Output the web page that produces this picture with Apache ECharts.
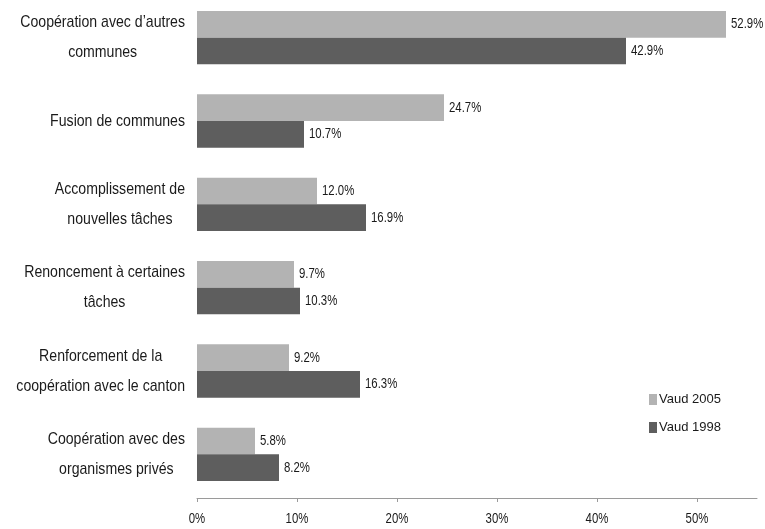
<!DOCTYPE html>
<html>
<head>
<meta charset="utf-8">
<script src="https://cdn.jsdelivr.net/npm/echarts@6/dist/echarts.min.js"></script>
<style>
  html, body { margin: 0; padding: 0; background: #fff; }
  #chart { width: 765px; height: 529px; }
</style>
</head>
<body>
<div id="chart"></div>
<script>
// Changements envisagés par les communes vaudoises (en %)
const categories = [
  "Coopération avec d’autres\ncommunes",
  "Fusion de communes",
  "Accomplissement de\nnouvelles tâches",
  "Renoncement à certaines\ntâches",
  "Renforcement de la\ncoopération avec le canton",
  "Coopération avec des\norganismes privés"
];
const vaud2005 = [52.9, 24.7, 12.0, 9.7, 9.2, 5.8];
const vaud1998 = [42.9, 10.7, 16.9, 10.3, 16.3, 8.2];
const seriesNames = ["Vaud 2005", "Vaud 1998"];
const xTicks = [0, 10, 20, 30, 40, 50];

const FAMILY = "'Liberation Sans', Arial, sans-serif";
const TEXT_COLOR = '#1a1a1a';
const AXIS_OFFSET = 2;

const chart = echarts.init(document.getElementById('chart'), null, { renderer: 'canvas' });

chart.setOption({
  animation: false,
  backgroundColor: '#ffffff',
  grid: { left: 197, right: 8, top: -4, bottom: 33, containLabel: false, outerBoundsMode: 'none' },
  legend: {
    orient: 'vertical',
    left: 644,
    top: 388,
    itemWidth: 8,
    itemHeight: 11,
    itemGap: 15,
    icon: 'rect',
    textStyle: { fontFamily: FAMILY, fontSize: 13, color: TEXT_COLOR, padding: [0, 0, 0, -3] },
    data: seriesNames
  },
  xAxis: {
    type: 'value',
    min: 0,
    max: 56,
    interval: 10,
    offset: AXIS_OFFSET,
    axisLine: { show: true, lineStyle: { color: '#9a9a9a', width: 1 } },
    axisTick: { show: true, length: 4, lineStyle: { color: '#9a9a9a' }, customValues: xTicks },
    axisLabel: { show: false },
    splitLine: { show: false }
  },
  yAxis: {
    type: 'category',
    inverse: true,
    data: categories,
    axisLine: { show: false },
    axisTick: { show: false },
    axisLabel: { show: false }
  },
  series: [
    { name: seriesNames[0], type: 'bar', data: vaud2005, barWidth: 26.7, barGap: '0%',
      itemStyle: { color: '#b3b3b3' } },
    { name: seriesNames[1], type: 'bar', data: vaud1998, barWidth: 26.7, barGap: '0%',
      itemStyle: { color: '#5e5e5e' } }
  ]
});

// Text measuring for centring the lines of each category label
const measureCtx = document.createElement('canvas').getContext('2d');
function textWidth(str, size) {
  measureCtx.font = size + 'px ' + FAMILY;
  return measureCtx.measureText(str).width;
}

// Condensed text: drawn at full size, then squeezed horizontally around its anchor
function narrowText(str, x, y, size, squeeze, align, lineHeight) {
  let localX = 0;
  let a = align;
  if (align === 'block-right') {
    const w = Math.max(...str.split('\n').map(s => textWidth(s, size)));
    localX = -w / 2;
    a = 'center';
  }
  return {
    type: 'text',
    x: x, y: y,
    scaleX: squeeze,
    silent: true,
    style: {
      text: str, x: localX, y: 0,
      fontFamily: FAMILY, fontSize: size,
      lineHeight: lineHeight || Math.round(size * 1.2),
      fill: TEXT_COLOR,
      align: a, verticalAlign: 'middle'
    }
  };
}

function addLabels() {
  const grid = chart.getModel().getComponent('grid').coordinateSystem.getRect();
  const axisY = grid.y + grid.height + AXIS_OFFSET;
  const elements = [];

  // category labels, right-aligned block with centred lines
  categories.forEach((c, i) => {
    const yc = chart.convertToPixel({ yAxisIndex: 0 }, i);
    elements.push(narrowText(c, grid.x - 12, yc, 17, 0.83, 'block-right', 30));
  });

  // value labels at the end of each bar
  [vaud2005, vaud1998].forEach((vals, si) => {
    const data = chart.getModel().getSeriesByIndex(si).getData();
    vals.forEach((v, i) => {
      const lay = data.getItemLayout(i);
      const xEnd = lay.x + lay.width;
      const yMid = lay.y + lay.height / 2;
      elements.push(narrowText(v.toFixed(1) + '%', xEnd + 5, yMid, 15, 0.76, 'left'));
    });
  });

  // x-axis tick labels
  xTicks.forEach(t => {
    const xp = chart.convertToPixel({ xAxisIndex: 0 }, t);
    elements.push(narrowText(t + '%', xp, axisY + 21, 15, 0.76, 'center'));
  });

  chart.setOption({ graphic: { elements: elements } });
}
addLabels();
</script>
</body>
</html>
